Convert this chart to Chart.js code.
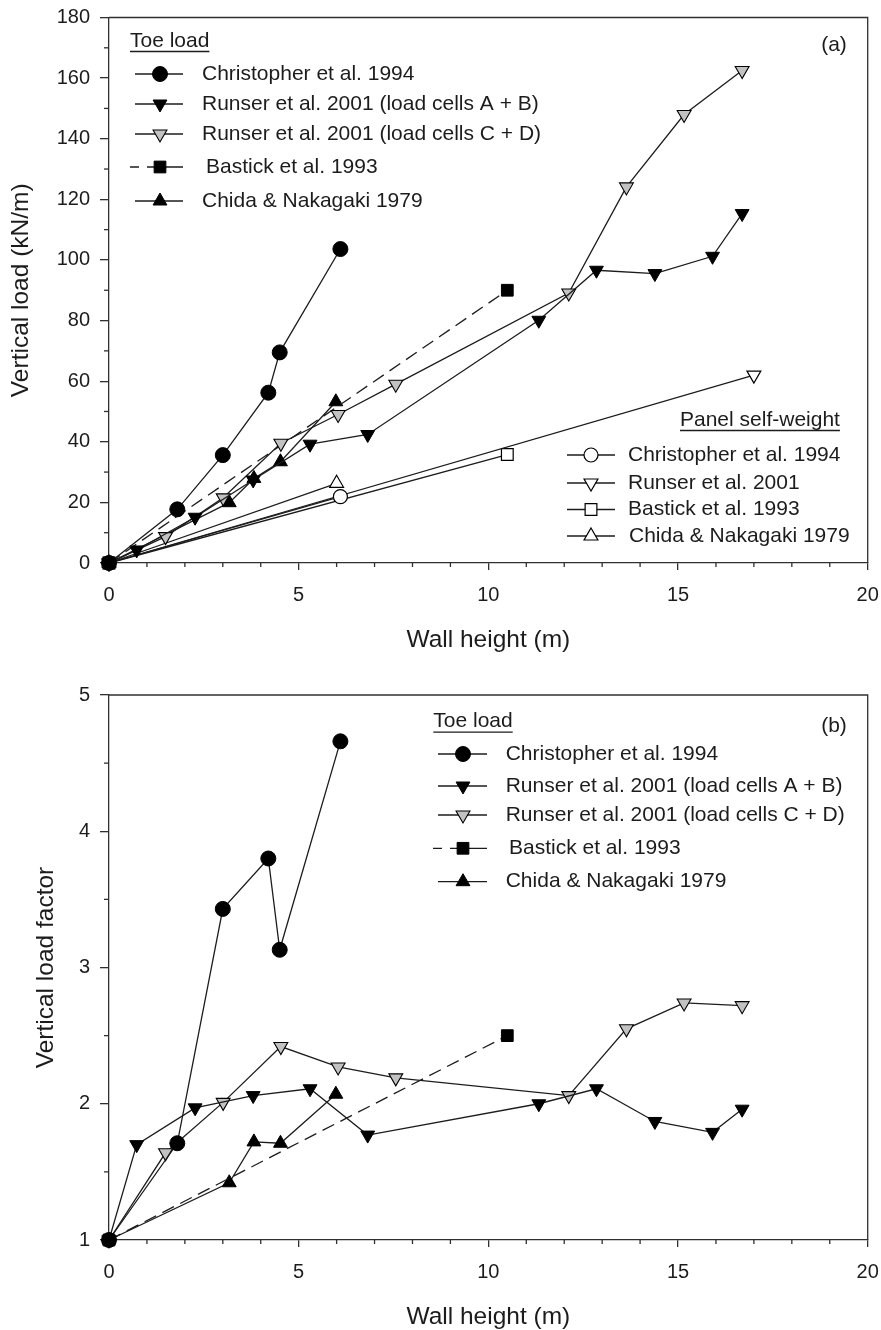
<!DOCTYPE html>
<html>
<head>
<meta charset="utf-8">
<script src="https://cdn.jsdelivr.net/npm/chart.js@4.4.1/dist/chart.umd.min.js"></script>
<style>
  html, body { margin: 0; padding: 0; background: #fff; }
  .wrap { position: absolute; left: 0; width: 881px; }
  #wrapA { top: 0; height: 660px; }
  #wrapB { top: 650px; height: 680px; }
</style>
</head>
<body>
<div class="wrap" id="wrapA"><canvas id="chartA" width="881" height="660"></canvas></div>
<div class="wrap" id="wrapB"><canvas id="chartB" width="881" height="680"></canvas></div>
<script>
/* ── DATA ─────────────────────────────────────── */
// wall heights (m)
const chrisX   = [0, 1.8, 3.0, 4.2, 4.5, 6.1];
const runABX   = [0, 0.73, 2.27, 3.8, 5.3, 6.82, 11.33, 12.85, 14.39, 15.91, 16.69];
const runCDX   = [0, 1.49, 3.01, 4.53, 6.04, 7.56, 12.12, 13.64, 15.16, 16.69];
const bastX    = [0, 10.5];
const chidaX   = [0, 3.17, 3.82, 4.52, 5.98];

// (a) toe load, kN/m
const chrisToe = [0, 17.7, 35.6, 56.2, 69.5, 103.6];
const runABToe = [0, 4.3, 15.1, 27.4, 39.2, 42.4, 80.1, 96.6, 95.5, 101.2, 115.3];
const runCDToe = [0, 8.7, 21.5, 39.5, 49.0, 59.0, 89.1, 124.1, 148.0, 162.5];
const bastToe  = [0, 90.0];
const chidaToe = [0, 19.9, 27.9, 33.4, 53.2];

// (a) panel self-weight, kN/m
const chrisSwX = [0, 6.1];
const chrisSw  = [0, 21.9];
const runSwX   = [0, 17.0];
const runSw    = [0, 62.0];
const bastSwX  = [0, 10.5];
const bastSw   = [0, 35.8];
const chidaSwX = [0, 6.0];
const chidaSw  = [0, 26.3];

// (b) vertical load factor
const chrisFac = [1, 1.71, 3.43, 3.80, 3.13, 4.66];
const runABFac = [1, 1.70, 1.97, 2.06, 2.11, 1.77, 2.00, 2.11, 1.87, 1.79, 1.96];
const runCDFac = [1, 1.64, 2.01, 2.42, 2.27, 2.19, 2.06, 2.55, 2.74, 2.72];
const bastFac  = [1, 2.5];
const chidaFac = [1, 1.42, 1.72, 1.71, 2.07];

const labels = {
  chris: 'Christopher et al. 1994',
  runAB: 'Runser et al. 2001 (load cells A + B)',
  runCD: 'Runser et al. 2001 (load cells C + D)',
  bast:  'Bastick et al. 1993',
  chida: 'Chida & Nakagaki 1979',
  runSw: 'Runser et al. 2001'
};

/* ── STYLE ─────────────────────────────────────── */
const FONT = '"Liberation Sans", Arial, Helvetica, sans-serif';
const INK  = '#1c1c1c';
const AXIS = '#303030';
Chart.defaults.font.family = FONT;
Chart.defaults.color = INK;

const pts = (xs, ys) => xs.map((x, i) => ({ x, y: ys[i] }));

const MARK = {
  dot:     { pointStyle: 'circle',   pointRadius: 7.5, pointRotation: 0,   pointBackgroundColor: '#000', pointBorderWidth: 1 },
  down:    { pointStyle: 'triangle', pointRadius: 8,   pointRotation: 180, pointBackgroundColor: '#000', pointBorderWidth: 1 },
  downG:   { pointStyle: 'triangle', pointRadius: 8,   pointRotation: 180, pointBackgroundColor: '#c2c2c2', pointBorderWidth: 1.1 },
  square:  { pointStyle: 'rect',     pointRadius: 8.3, pointRotation: 0,   pointBackgroundColor: '#000', pointBorderWidth: 1 },
  up:      { pointStyle: 'triangle', pointRadius: 8,   pointRotation: 0,   pointBackgroundColor: '#000', pointBorderWidth: 1 },
  dotO:    { pointStyle: 'circle',   pointRadius: 7,   pointRotation: 0,   pointBackgroundColor: '#fff', pointBorderWidth: 1.2 },
  downO:   { pointStyle: 'triangle', pointRadius: 8,   pointRotation: 180, pointBackgroundColor: '#fff', pointBorderWidth: 1.2 },
  squareO: { pointStyle: 'rect',     pointRadius: 8.3, pointRotation: 0,   pointBackgroundColor: '#fff', pointBorderWidth: 1.2 },
  upO:     { pointStyle: 'triangle', pointRadius: 8,   pointRotation: 0,   pointBackgroundColor: '#fff', pointBorderWidth: 1.2 }
};

function series(label, xs, ys, mark, dashed) {
  return Object.assign({
    label,
    data: pts(xs, ys),
    borderColor: INK,
    borderWidth: 1.3,
    borderDash: dashed ? [13, 7] : [],
    pointBorderColor: '#000',
    pointHoverRadius: 0,
    tension: 0,
    fill: false,
    clip: false
  }, MARK[mark]);
}

/* ── PLUGINS ───────────────────────────────────── */
// short minor ticks between the labelled ones
const minorTicks = {
  id: 'minorTicks',
  afterDraw(chart, args, opts) {
    const ctx = chart.ctx;
    ctx.save();
    ctx.strokeStyle = AXIS;
    ctx.lineWidth = 1.3;
    (opts.list || []).forEach(m => {
      const s = chart.scales[m.id];
      const major = s.options.ticks.stepSize;
      for (let v = s.min; v <= s.max + 1e-9; v += m.step) {
        const r = v / major;
        if (Math.abs(r - Math.round(r)) < 1e-6) continue;
        const p = s.getPixelForValue(v);
        ctx.beginPath();
        if (s.isHorizontal()) { ctx.moveTo(p, s.top); ctx.lineTo(p, s.top + m.len); }
        else { ctx.moveTo(s.right - m.len, p); ctx.lineTo(s.right, p); }
        ctx.stroke();
      }
    });
    ctx.restore();
  }
};

// top + right edge of the plot frame
const frame = {
  id: 'frame',
  afterDraw(chart) {
    const { ctx, chartArea: a } = chart;
    ctx.save();
    ctx.strokeStyle = AXIS;
    ctx.lineWidth = 1.3;
    ctx.beginPath();
    ctx.moveTo(a.left, a.top);
    ctx.lineTo(a.right, a.top);
    ctx.lineTo(a.right, a.bottom);
    ctx.stroke();
    ctx.restore();
  }
};

// grouped legends with underlined headers, plus the panel tag
const groupLegend = {
  id: 'groupLegend',
  afterDraw(chart, args, opts) {
    const ctx = chart.ctx;
    ctx.save();
    ctx.font = '21px ' + FONT;
    ctx.fillStyle = INK;
    ctx.textBaseline = 'middle';
    if (opts.tag) {
      ctx.textAlign = 'center';
      ctx.fillText(opts.tag.text, opts.tag.x, opts.tag.y);
    }
    (opts.groups || []).forEach(g => {
      ctx.textAlign = 'left';
      ctx.fillStyle = INK;
      ctx.fillText(g.title, g.x, g.y);
      const w = ctx.measureText(g.title).width;
      ctx.strokeStyle = INK;
      ctx.lineWidth = 1.3;
      ctx.setLineDash([]);
      ctx.beginPath();
      ctx.moveTo(g.x, g.y + 10.5);
      ctx.lineTo(g.x + w, g.y + 10.5);
      ctx.stroke();

      g.rows.forEach(r => {
        const ds = chart.data.datasets[r.ds];
        const dashed = ds.borderDash && ds.borderDash.length;
        ctx.strokeStyle = ds.borderColor;
        ctx.lineWidth = ds.borderWidth;
        ctx.setLineDash(dashed ? [9, 8, 100] : []);
        ctx.beginPath();
        ctx.moveTo(r.x0 !== undefined ? r.x0 : g.x0, r.y);
        ctx.lineTo(g.x1, r.y);
        ctx.stroke();
        ctx.setLineDash([]);

        ctx.fillStyle = ds.pointBackgroundColor;
        ctx.strokeStyle = ds.pointBorderColor;
        ctx.lineWidth = ds.pointBorderWidth;
        Chart.helpers.drawPoint(ctx, {
          pointStyle: ds.pointStyle,
          rotation: ds.pointRotation,
          radius: ds.pointRadius,
          borderWidth: ds.pointBorderWidth
        }, g.mx, r.y);

        ctx.fillStyle = INK;
        ctx.fillText(ds.label, r.tx !== undefined ? r.tx : g.tx, r.y);
      });
    });
    ctx.restore();
  }
};

/* ── CHART BUILDER ─────────────────────────────── */
function buildChart(canvasId, cfg) {
  return new Chart(document.getElementById(canvasId), {
    type: 'line',
    data: { datasets: cfg.datasets },
    options: {
      responsive: false,
      animation: false,
      events: [],
      layout: { padding: cfg.padding },
      plugins: {
        legend: { display: false },
        tooltip: { enabled: false },
        minorTicks: { list: cfg.minor },
        groupLegend: cfg.legend
      },
      scales: {
        x: {
          type: 'linear',
          min: 0, max: 20,
          ticks: { stepSize: 5, padding: 13, font: { size: 20 }, color: INK, maxRotation: 0 },
          grid: { drawOnChartArea: false, drawTicks: true, tickLength: 7, color: AXIS, lineWidth: 1.3 },
          border: { display: true, color: AXIS, width: 1.3 },
          title: { display: true, text: 'Wall height (m)', font: { size: 24.5, lineHeight: 1 }, color: INK, padding: 0 },
          afterFit: s => { s.height = cfg.xH; s.paddingLeft = 0; s.paddingRight = 0; }
        },
        y: {
          type: 'linear',
          min: cfg.yMin, max: cfg.yMax,
          ticks: { stepSize: cfg.yStep, padding: 10, font: { size: 20 }, color: INK },
          grid: { drawOnChartArea: false, drawTicks: true, tickLength: 9, color: AXIS, lineWidth: 1.3 },
          border: { display: true, color: AXIS, width: 1.3 },
          title: { display: true, text: cfg.yTitle, font: { size: 24.5, lineHeight: 1 }, color: INK, padding: 0 },
          afterFit: s => { s.width = cfg.yW; s.paddingTop = 0; s.paddingBottom = 0; }
        }
      }
    },
    plugins: [minorTicks, frame, groupLegend]
  });
}

/* ── (a) VERTICAL LOAD ─────────────────────────── */
buildChart('chartA', {
  datasets: [
    series(labels.chris, chrisX,   chrisToe, 'dot'),
    series(labels.runAB, runABX,   runABToe, 'down'),
    series(labels.runCD, runCDX,   runCDToe, 'downG'),
    series(labels.bast,  bastX,    bastToe,  'square', true),
    series(labels.chida, chidaX,   chidaToe, 'up'),
    series(labels.chris, chrisSwX, chrisSw,  'dotO'),
    series(labels.runSw, runSwX,   runSw,    'downO'),
    series(labels.bast,  bastSwX,  bastSw,   'squareO'),
    series(labels.chida, chidaSwX, chidaSw,  'upO')
  ],
  padding: { top: 17.5, right: 13.3, bottom: 7.75, left: 9 },
  xH: 89.25, yW: 100,
  yMin: 0, yMax: 180, yStep: 20,
  yTitle: 'Vertical load (kN/m)',
  minor: [{ id: 'x', step: 1, len: 4 }, { id: 'y', step: 10, len: 5 }],
  legend: {
    tag: { text: '(a)', x: 834, y: 45 },
    groups: [
      { title: 'Toe load', x: 130, y: 41, x0: 135, x1: 183, mx: 160, tx: 202,
        rows: [{ ds: 0, y: 74 }, { ds: 1, y: 104 }, { ds: 2, y: 134 },
               { ds: 3, y: 167, x0: 130, tx: 206 }, { ds: 4, y: 201 }] },
      { title: 'Panel self-weight', x: 680, y: 420, x0: 567, x1: 615, mx: 591, tx: 628,
        rows: [{ ds: 5, y: 455 }, { ds: 6, y: 483 }, { ds: 7, y: 509.5 }, { ds: 8, y: 536, tx: 629 }] }
    ]
  }
});

/* ── (b) VERTICAL LOAD FACTOR ──────────────────── */
buildChart('chartB', {
  datasets: [
    series(labels.chris, chrisX, chrisFac, 'dot'),
    series(labels.runAB, runABX, runABFac, 'down'),
    series(labels.runCD, runCDX, runCDFac, 'downG'),
    series(labels.bast,  bastX,  bastFac,  'square', true),
    series(labels.chida, chidaX, chidaFac, 'up')
  ],
  padding: { top: 45, right: 13.3, bottom: 0.75, left: 34 },
  xH: 89.25, yW: 75,
  yMin: 1, yMax: 5, yStep: 1,
  yTitle: 'Vertical load factor',
  minor: [{ id: 'x', step: 1, len: 4 }, { id: 'y', step: 0.5, len: 5 }],
  legend: {
    tag: { text: '(b)', x: 834, y: 76.7 },
    groups: [
      { title: 'Toe load', x: 433.3, y: 71.7, x0: 438, x1: 487, mx: 463, tx: 505.7,
        rows: [{ ds: 0, y: 104 }, { ds: 1, y: 136 }, { ds: 2, y: 165 },
               { ds: 3, y: 198.3, x0: 433, tx: 509 }, { ds: 4, y: 231.7 }] }
    ]
  }
});
</script>
</body>
</html>
